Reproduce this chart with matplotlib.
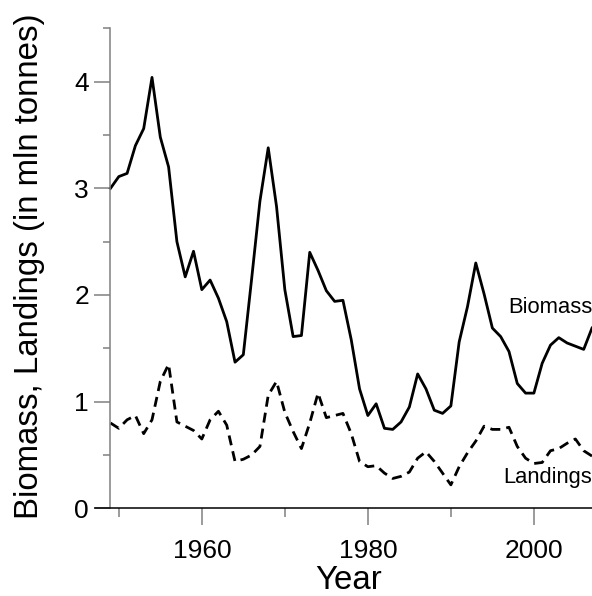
import matplotlib
matplotlib.use('Agg')
import matplotlib.pyplot as plt
from matplotlib.ticker import MultipleLocator

plt.rcParams['font.family'] = ['Liberation Sans', 'DejaVu Sans']

years = list(range(1949, 2008))
biomass = [3.00, 3.11, 3.14, 3.40, 3.56, 4.04, 3.48, 3.20, 2.50, 2.17,
           2.41, 2.05, 2.14, 1.97, 1.75, 1.37, 1.44, 2.15, 2.88, 3.38,
           2.83, 2.05, 1.61, 1.62, 2.40, 2.23, 2.04, 1.94, 1.95, 1.58,
           1.12, 0.87, 0.98, 0.75, 0.74, 0.81, 0.95, 1.26, 1.12, 0.92,
           0.89, 0.96, 1.56, 1.89, 2.30, 2.01, 1.69, 1.61, 1.47, 1.17,
           1.08, 1.08, 1.36, 1.53, 1.60, 1.55, 1.52, 1.49, 1.69]
landings = [0.80, 0.75, 0.83, 0.87, 0.70, 0.83, 1.19, 1.35, 0.81, 0.77,
            0.73, 0.65, 0.83, 0.91, 0.78, 0.44, 0.46, 0.50, 0.58, 1.06,
            1.19, 0.90, 0.72, 0.56, 0.80, 1.08, 0.85, 0.87, 0.89, 0.70,
            0.44, 0.39, 0.40, 0.33, 0.28, 0.30, 0.34, 0.47, 0.53, 0.44,
            0.33, 0.22, 0.39, 0.52, 0.63, 0.77, 0.74, 0.74, 0.76, 0.58,
            0.47, 0.42, 0.43, 0.54, 0.56, 0.61, 0.65, 0.54, 0.49]

fig = plt.figure(figsize=(5.92, 5.96), dpi=100)
ax = fig.add_axes([0.16, 0.1471, 0.84, 0.8054])

ax.plot(years, biomass, color='black', linewidth=2.0)
ax.plot(years, landings, color='black', linewidth=2.0, linestyle=(0, (3.6, 2.2)))

ax.set_xlim(1947.1, 2007.0)
ax.set_ylim(0, 4.5)

# axis styling
gray = '#808080'
ax.spines['top'].set_visible(False)
ax.spines['right'].set_visible(False)
ax.spines['left'].set_position(('data', 1949))
ax.spines['left'].set_color(gray)
ax.spines['left'].set_linewidth(1.1)
ax.spines['bottom'].set_color('black')
ax.spines['bottom'].set_linewidth(1.1)
ax.spines['bottom'].set_zorder(5)

ax.xaxis.set_major_locator(MultipleLocator(20))
ax.xaxis.set_minor_locator(MultipleLocator(10))
ax.yaxis.set_major_locator(MultipleLocator(1))
ax.yaxis.set_minor_locator(MultipleLocator(0.5))

ax.tick_params(axis='y', which='major', length=11.5, width=1.1, color=gray,
               labelsize=19, pad=4)
ax.tick_params(axis='y', which='minor', length=5, width=1.1, color=gray)
ax.tick_params(axis='x', which='major', length=12, width=1.1, color=gray,
               labelsize=19, pad=10)
ax.tick_params(axis='x', which='minor', length=6.5, width=1.1, color=gray)

ax.text(2007, 1.83, 'Biomass', fontsize=15.8, ha='right', va='baseline')
ax.text(2007, 0.24, 'Landings', fontsize=15.8, ha='right', va='baseline')

fig.text(29.5 / 592, 1 - 266.5 / 596, 'Biomass, Landings (in mln tonnes)',
         rotation=90, fontsize=23.8, ha='center', va='center')
fig.text(349 / 592, 1 - 589 / 596, 'Year', fontsize=23.8, ha='center', va='baseline')

fig.savefig('out.png', dpi=100)
